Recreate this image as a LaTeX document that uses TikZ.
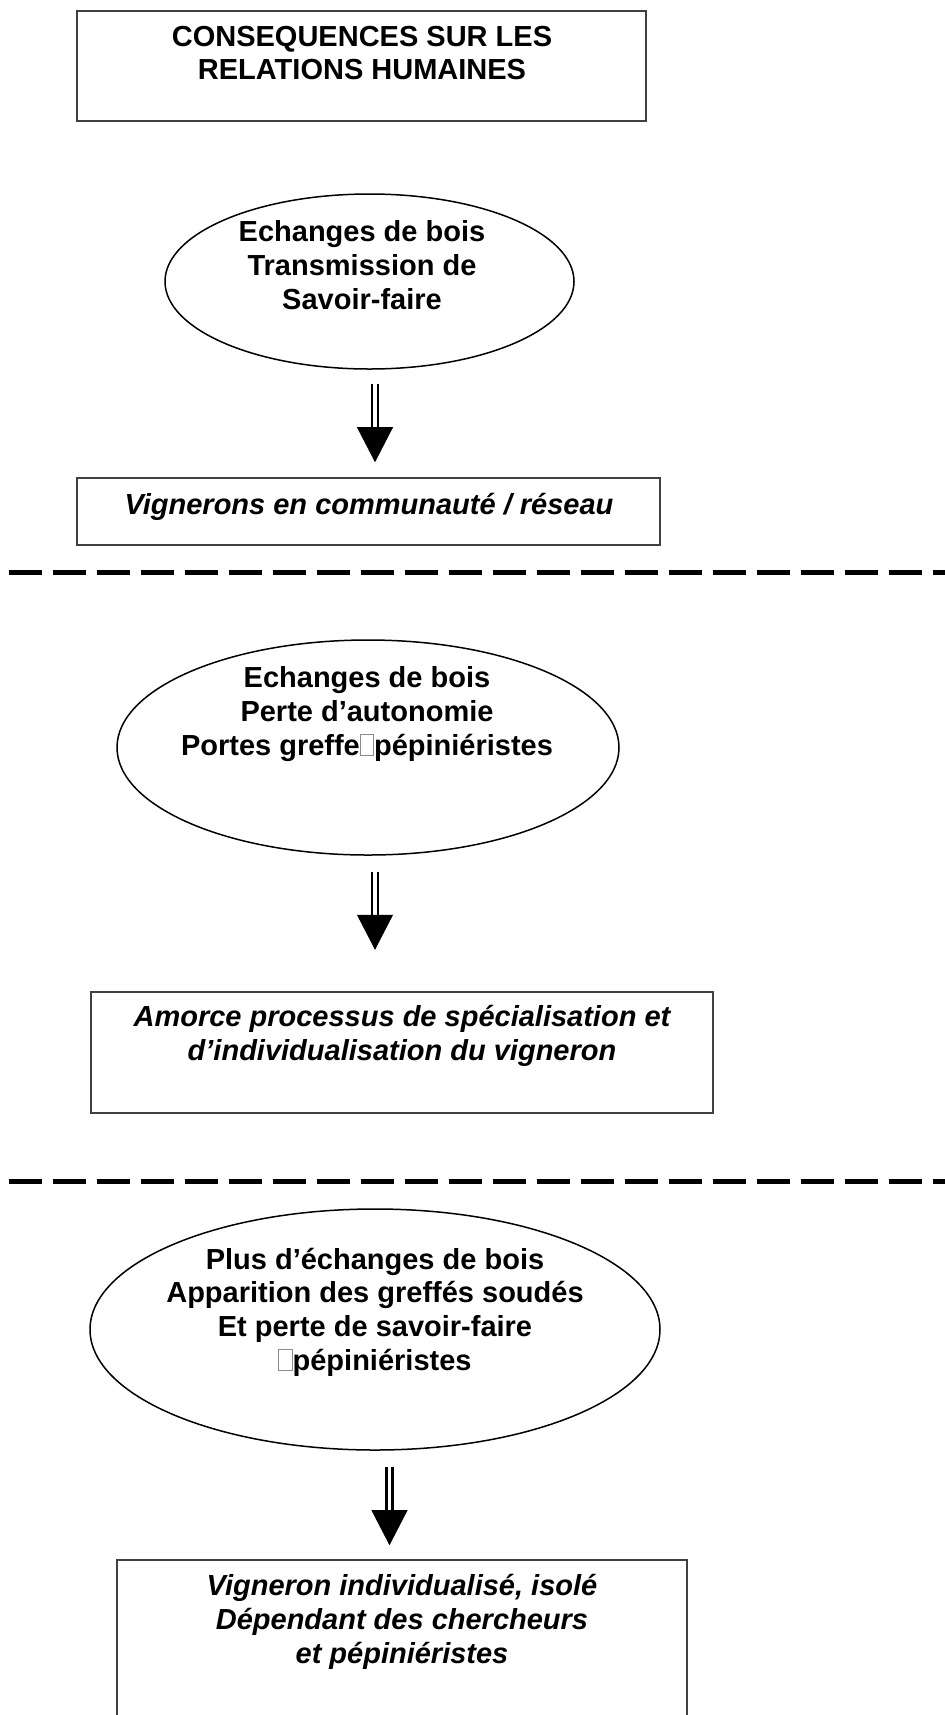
\documentclass[tikz,border=0pt]{standalone}
\usepackage{fontspec}
\setmainfont{Liberation Sans}
\usetikzlibrary{arrows.meta,positioning,fit,calc,shapes.geometric}
\newcommand{\glyphvide}{{\color{black!45}\setlength{\fboxsep}{0pt}\setlength{\fboxrule}{0.5pt}\fbox{\rule{0pt}{0.68em}\hspace{0.42em}}}}
\tikzset{
  rh/box/.style={
    draw=black!75,
    line width=0.8pt,
    inner sep=0pt
  },
  rh/bulle/.style={
    ellipse,
    draw=black,
    line width=0.75pt,
    inner sep=0pt
  },
  rh/titre/.style={font=\bfseries\fontsize{14.5}{16.8}\selectfont, align=center},
  rh/texte/.style={font=\bfseries\itshape\fontsize{14.5}{16.8}\selectfont, align=center},
  rh/hampe/.style={double, double distance=1.7pt, line width=1.3pt},
  rh/tete/.style={-{Triangle[length=17.5pt,width=18pt]}, line width=0.3pt},
  rh/separateur/.style={line width=2.5pt, dash pattern=on 16.5pt off 5.5pt}
}

\begin{document}
\begin{tikzpicture}[x=0.5pt,y=-0.5pt]
  \clip (0,0) rectangle (945,1715);
  % boxes and bubbles (text nodes sit on the baseline of their last line)
  \node[rh/box, fit={(77,11) (646,121)}] (titre) {};
  \node[rh/titre, anchor=base] (titretxt) at (362,79.6) {CONSEQUENCES SUR LES\\RELATIONS HUMAINES};

  \node[rh/bulle, minimum width=204.5pt, minimum height=87.5pt] (bulle1) at (369.5,281.5) {};
  \node[rh/titre, anchor=base] (bulle1txt) at (362,309) {Echanges de bois\\Transmission de\\Savoir-faire};

  \node[rh/box, fit={(77,478) (660,545)}] (cadre2) {};
  \node[rh/texte, anchor=base] (cadre2txt) at (369,514) {Vignerons en communauté / réseau};

  \draw[rh/separateur] (9,572) -- (945,572);

  \node[rh/bulle, minimum width=251pt, minimum height=107.5pt] (bulle2) at (368,747.5) {};
  \node[rh/titre, anchor=base] (bulle2txt) at (367,755) {Echanges de bois\\Perte d’autonomie\\Portes greffe\glyphvide pépiniéristes};

  \node[rh/box, fit={(91,992) (713,1113)}] (cadre3) {};
  \node[rh/texte, anchor=base] (cadre3txt) at (402,1060) {Amorce processus de spécialisation et\\d’individualisation du vigneron};

  \draw[rh/separateur] (9,1181) -- (945,1181);

  \node[rh/bulle, minimum width=285pt, minimum height=120.5pt] (bulle3) at (375,1329.5) {};
  \node[rh/titre, anchor=base] (bulle3txt) at (375,1370) {Plus d’échanges de bois\\Apparition des greffés soudés\\Et perte de savoir-faire\\\glyphvide pépiniéristes};

  \node[rh/box, fit={(117,1560) (687,1730)}] (cadre4) {};
  \node[rh/texte, anchor=base] (cadre4txt) at (402,1663) {Vigneron individualisé, isolé\\Dépendant des chercheurs\\et pépiniéristes};

  % arrows
  \coordinate (f1haut) at ($(bulle1.south)+(5.5,14)$);
  \coordinate (f1pointe) at ($(cadre2.north)+(6.5,-15)$);
  \draw[rh/hampe] (f1haut) -- ($(f1pointe)+(0,-35)$);
  \draw[rh/tete] ($(f1pointe)+(0,-35)$) -- (f1pointe);

  \coordinate (f2haut) at ($(bulle2.south)+(7,16)$);
  \coordinate (f2pointe) at ($(bulle2.south)+(7,94)$);
  \draw[rh/hampe] (f2haut) -- ($(f2pointe)+(0,-35)$);
  \draw[rh/tete] ($(f2pointe)+(0,-35)$) -- (f2pointe);

  \coordinate (f3haut) at ($(bulle3.south)+(14.5,16)$);
  \coordinate (f3pointe) at ($(cadre4.north)+(-12.5,-14)$);
  \draw[rh/hampe] (f3haut) -- ($(f3pointe)+(0,-35)$);
  \draw[rh/tete] ($(f3pointe)+(0,-35)$) -- (f3pointe);
\end{tikzpicture}
\end{document}
